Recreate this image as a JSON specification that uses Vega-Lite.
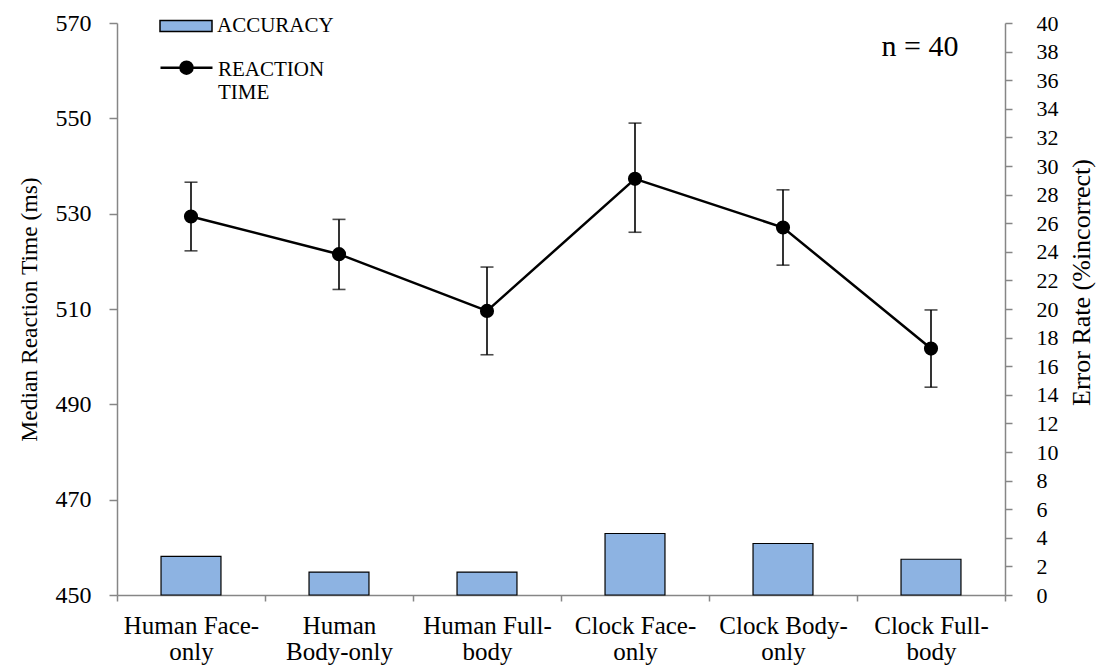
{
  "$schema": "https://vega.github.io/schema/vega-lite/v6.json",
  "width": 888,
  "height": 572,
  "autosize": {"type": "none"},
  "padding": {"left": 117, "top": 23, "right": 94, "bottom": 72},
  "background": "#ffffff",
  "config": {
    "view": {"stroke": null},
    "font": "Liberation Serif",
    "axis": {
      "grid": false,
      "domainColor": "#868686",
      "domainWidth": 1.5,
      "tickColor": "#868686",
      "tickWidth": 1.5,
      "labelColor": "#000000",
      "titleColor": "#000000",
      "labelFont": "Liberation Serif",
      "titleFont": "Liberation Serif",
      "titleFontWeight": "normal"
    },
    "legend": {
      "labelFont": "Liberation Serif",
      "labelColor": "#000000",
      "labelFontSize": 21,
      "padding": 0,
      "title": null
    }
  },
  "data": {
    "values": [
      {"condition": "Human Face-only", "rt": 529.4, "rt_lo": 522.2, "rt_hi": 536.6, "error_rate": 2.7},
      {"condition": "Human Body-only", "rt": 521.5, "rt_lo": 514.1, "rt_hi": 528.8, "error_rate": 1.6},
      {"condition": "Human Full-body", "rt": 509.6, "rt_lo": 500.4, "rt_hi": 518.8, "error_rate": 1.6},
      {"condition": "Clock Face-only", "rt": 537.3, "rt_lo": 526.1, "rt_hi": 549.0, "error_rate": 4.3},
      {"condition": "Clock Body-only", "rt": 527.1, "rt_lo": 519.2, "rt_hi": 535.0, "error_rate": 3.6},
      {"condition": "Clock Full-body", "rt": 501.7, "rt_lo": 493.6, "rt_hi": 509.8, "error_rate": 2.5}
    ]
  },
  "encoding": {
    "x": {
      "field": "condition",
      "type": "nominal",
      "sort": null,
      "title": null,
      "scale": {"paddingInner": 0, "paddingOuter": 0},
      "axis": {
        "labelAngle": 0,
        "labelFontSize": 25,
        "labelLineHeight": 26.5,
        "labelPadding": 12,
        "tickSize": 6,
        "tickBand": "extent",
        "labelExpr": "{'Human Face-only': ['Human Face-', 'only'], 'Human Body-only': ['Human', 'Body-only'], 'Human Full-body': ['Human Full-', 'body'], 'Clock Face-only': ['Clock Face-', 'only'], 'Clock Body-only': ['Clock Body-', 'only'], 'Clock Full-body': ['Clock Full-', 'body']}[datum.value]"
      }
    }
  },
  "layer": [
    {
      "mark": {"type": "bar", "stroke": "#000000", "strokeWidth": 1.2, "width": {"band": 0.405}},
      "encoding": {
        "y": {
          "field": "error_rate",
          "type": "quantitative",
          "scale": {"domain": [0, 40], "nice": false},
          "axis": {
            "orient": "right",
            "title": "Error Rate (%incorrect)",
            "titleFontSize": 26,
            "titleAngle": 270,
            "titlePadding": 36,
            "titleY": 259,
            "values": [0, 2, 4, 6, 8, 10, 12, 14, 16, 18, 20, 22, 24, 26, 28, 30, 32, 34, 36, 38, 40],
            "labelFontSize": 22,
            "labelPadding": 24,
            "tickSize": 7
          }
        },
        "fill": {
          "datum": "ACCURACY",
          "type": "nominal",
          "scale": {"range": ["#8DB3E2"]},
          "legend": {
            "orient": "none",
            "legendX": 42,
            "legendY": -24,
            "symbolType": "M-1,-0.21H1V0.21H-1Z",
            "symbolSize": 2704,
            "symbolStrokeColor": "#000000",
            "symbolStrokeWidth": 1.5,
            "labelOffset": 4
          }
        }
      }
    },
    {
      "layer": [
        {
          "mark": {"type": "line", "color": "#000000", "strokeWidth": 2.5},
          "encoding": {
            "y": {"field": "rt", "type": "quantitative"},
            "stroke": {
              "datum": "REACTION TIME",
              "type": "nominal",
              "scale": {"range": ["#000000"]},
              "legend": {
                "orient": "none",
                "legendX": 42,
                "legendY": 19,
                "symbolType": "M-1,-0.07H1M-0.23,-0.07A0.23,0.23,0,1,1,0.23,-0.07A0.23,0.23,0,1,1,-0.23,-0.07Z",
                "symbolSize": 2704,
                "labelExpr": "datum.label == 'REACTION TIME' ? ['REACTION', 'TIME'] : datum.label",
                "labelLineHeight": 24,
                "labelOffset": 4,
                "encode": {
                  "symbols": {
                    "update": {
                      "fill": {"value": "#000000"},
                      "stroke": {"value": "#000000"},
                      "strokeWidth": {"value": 2.5}
                    }
                  }
                }
              }
            }
          }
        },
        {
          "mark": {"type": "rule", "color": "#000000", "strokeWidth": 1.6},
          "encoding": {
            "y": {"field": "rt_lo", "type": "quantitative"},
            "y2": {"field": "rt_hi"}
          }
        },
        {
          "mark": {"type": "tick", "color": "#000000", "size": 13, "thickness": 1.6, "orient": "horizontal"},
          "encoding": {"y": {"field": "rt_hi", "type": "quantitative"}}
        },
        {
          "mark": {"type": "tick", "color": "#000000", "size": 13, "thickness": 1.6, "orient": "horizontal"},
          "encoding": {"y": {"field": "rt_lo", "type": "quantitative"}}
        },
        {
          "mark": {"type": "point", "filled": true, "color": "#000000", "size": 200, "opacity": 1},
          "encoding": {"y": {"field": "rt", "type": "quantitative"}}
        },
        {
          "data": {"values": [{"note": "n = 40"}]},
          "mark": {"type": "text", "fontSize": 30, "font": "Liberation Serif", "color": "#000000", "dx": -11, "baseline": "middle"},
          "encoding": {
            "x": {"datum": "Clock Full-body"},
            "y": {"datum": 565},
            "text": {"field": "note"}
          }
        }
      ],
      "encoding": {
        "y": {
          "type": "quantitative",
          "scale": {"domain": [450, 570], "nice": false, "zero": false},
          "axis": {
            "orient": "left",
            "title": "Median Reaction Time (ms)",
            "titleFontSize": 23.5,
            "titlePadding": 14,
            "values": [450, 470, 490, 510, 530, 550, 570],
            "labelFontSize": 24,
            "labelPadding": 18,
            "tickSize": 8
          }
        }
      }
    }
  ],
  "resolve": {"scale": {"y": "independent"}}
}
